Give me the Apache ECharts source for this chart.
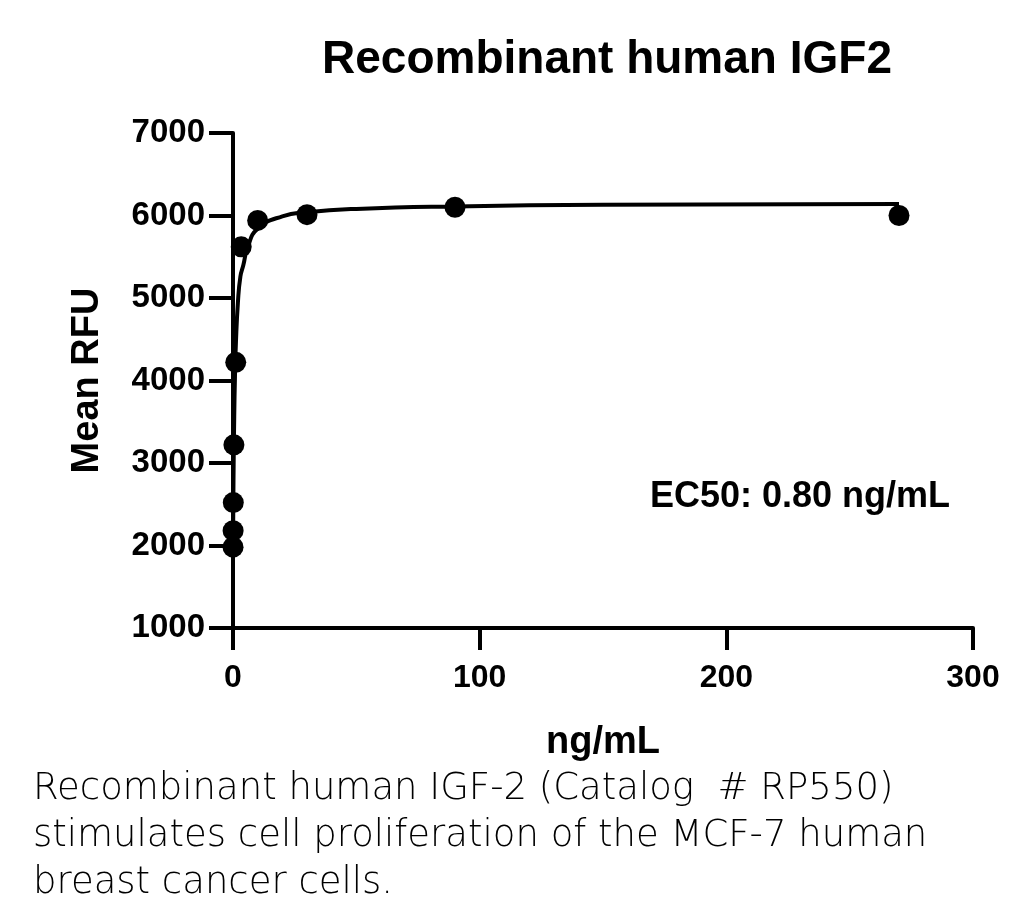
<!doctype html>
<html lang="en">

<head>
	<title>Recombinant human IGF2</title>
	<meta charset="utf-8">
	<script src="https://cdn.jsdelivr.net/npm/echarts@6/dist/echarts.min.js"></script>
	<style>
		html, body {
			margin: 0;
			padding: 0;
			background: #ffffff;
		}
		#canvas1 {
			width: 1024px;
			height: 919px;
		}
	</style>
</head>

<body>
	<div id="canvas1"></div>
	<script>
		var dose_values = [0.0137, 0.041, 0.123, 0.37, 1.11, 3.33, 10, 30, 90, 270];
		var rfu_values = [1980, 2180, 2520, 3220, 4220, 5620, 5940, 6010, 6100, 6000];

		// fitted curve
		var curve_dose = [0, 0.2, 0.5, 0.8, 1.2, 2, 3, 4.2, 6, 10, 20, 30, 50, 90, 150, 270];
		var curve_rfu = [1950, 2790, 3560, 4050, 4470, 4950, 5260, 5400, 5620, 5840, 5990, 6040, 6080, 6110, 6130, 6140];

		var x_ticks = [0, 100, 200, 300];
		var y_ticks = [1000, 2000, 3000, 4000, 5000, 6000, 7000];

		var caption_lines = [
			'Recombinant human IGF-2 (Catalog  # RP550)',
			'stimulates cell proliferation of the MCF-7 human',
			'breast cancer cells.'
		];

		var data_points = [];
		for (let i = 0; i < dose_values.length; i++) {
			data_points.push([dose_values[i], rfu_values[i]]);
		}
		var data_curve = [];
		for (let i = 0; i < curve_dose.length; i++) {
			data_curve.push([curve_dose[i], curve_rfu[i]]);
		}

		var captionGraphics = [];
		for (let i = 0; i < caption_lines.length; i++) {
			captionGraphics.push({
				type: 'text',
				left: 33,
				top: 771 + i * 47,
				style: {
					text: caption_lines[i],
					font: '300 37px "DejaVu Sans", sans-serif',
					fill: '#000'
				}
			});
		}

		var boldFont = '"Liberation Sans", Arial, sans-serif';

		option = {
			animation: false,
			backgroundColor: '#ffffff',
			title: {
				text: 'Recombinant human IGF2',
				left: 602,
				top: 32,
				textAlign: 'center',
				textStyle: {
					fontFamily: boldFont,
					fontWeight: 'bold',
					fontSize: 46,
					color: '#000'
				}
			},
			grid: {
				left: 233,
				right: 51,
				top: 133,
				bottom: 291,
				containLabel: false
			},
			xAxis: {
				type: 'value',
				min: x_ticks[0],
				max: x_ticks[x_ticks.length - 1],
				interval: 100,
				name: 'ng/mL',
				nameLocation: 'middle',
				nameGap: 96,
				nameTextStyle: {
					fontFamily: boldFont,
					fontWeight: 'bold',
					fontSize: 38,
					color: '#000'
				},
				splitLine: { show: false },
				axisLine: { show: true, onZero: false, lineStyle: { color: '#000', width: 4 } },
				axisTick: { show: true, inside: false, length: 22, lineStyle: { color: '#000', width: 4 } },
				axisLabel: {
					margin: 34,
					formatter: '{value}',
					fontFamily: boldFont,
					fontWeight: 'bold',
					fontSize: 32,
					color: '#000'
				}
			},
			yAxis: {
				type: 'value',
				min: y_ticks[0],
				max: y_ticks[y_ticks.length - 1],
				interval: 1000,
				name: 'Mean RFU',
				nameLocation: 'middle',
				nameGap: 126,
				nameRotate: 90,
				nameTextStyle: {
					fontFamily: boldFont,
					fontWeight: 'bold',
					fontSize: 38,
					color: '#000'
				},
				splitLine: { show: false },
				axisLine: { show: true, onZero: false, lineStyle: { color: '#000', width: 4 } },
				axisTick: { show: true, inside: false, length: 24, lineStyle: { color: '#000', width: 4 } },
				axisLabel: {
					margin: 28,
					formatter: function (v) { return String(v); },
					fontFamily: boldFont,
					fontWeight: 'bold',
					fontSize: 33,
					color: '#000'
				}
			},
			series: [{
				type: 'line',
				data: data_curve,
				smooth: true,
				showSymbol: false,
				lineStyle: { color: '#000', width: 4 },
				z: 2
			}, {
				type: 'scatter',
				data: data_points,
				symbol: 'circle',
				symbolSize: 21,
				itemStyle: { color: '#000', opacity: 1 },
				z: 3
			}],
			graphic: [{
				type: 'text',
				left: 650,
				top: 479,
				style: {
					text: 'EC50: 0.80 ng/mL',
					font: 'bold 36px "Liberation Sans", Arial, sans-serif',
					fill: '#000'
				}
			}].concat(captionGraphics)
		};

		let echartsObj = echarts.init(document.getElementById('canvas1'));
		echartsObj.setOption(option);
	</script>
</body>

</html>
